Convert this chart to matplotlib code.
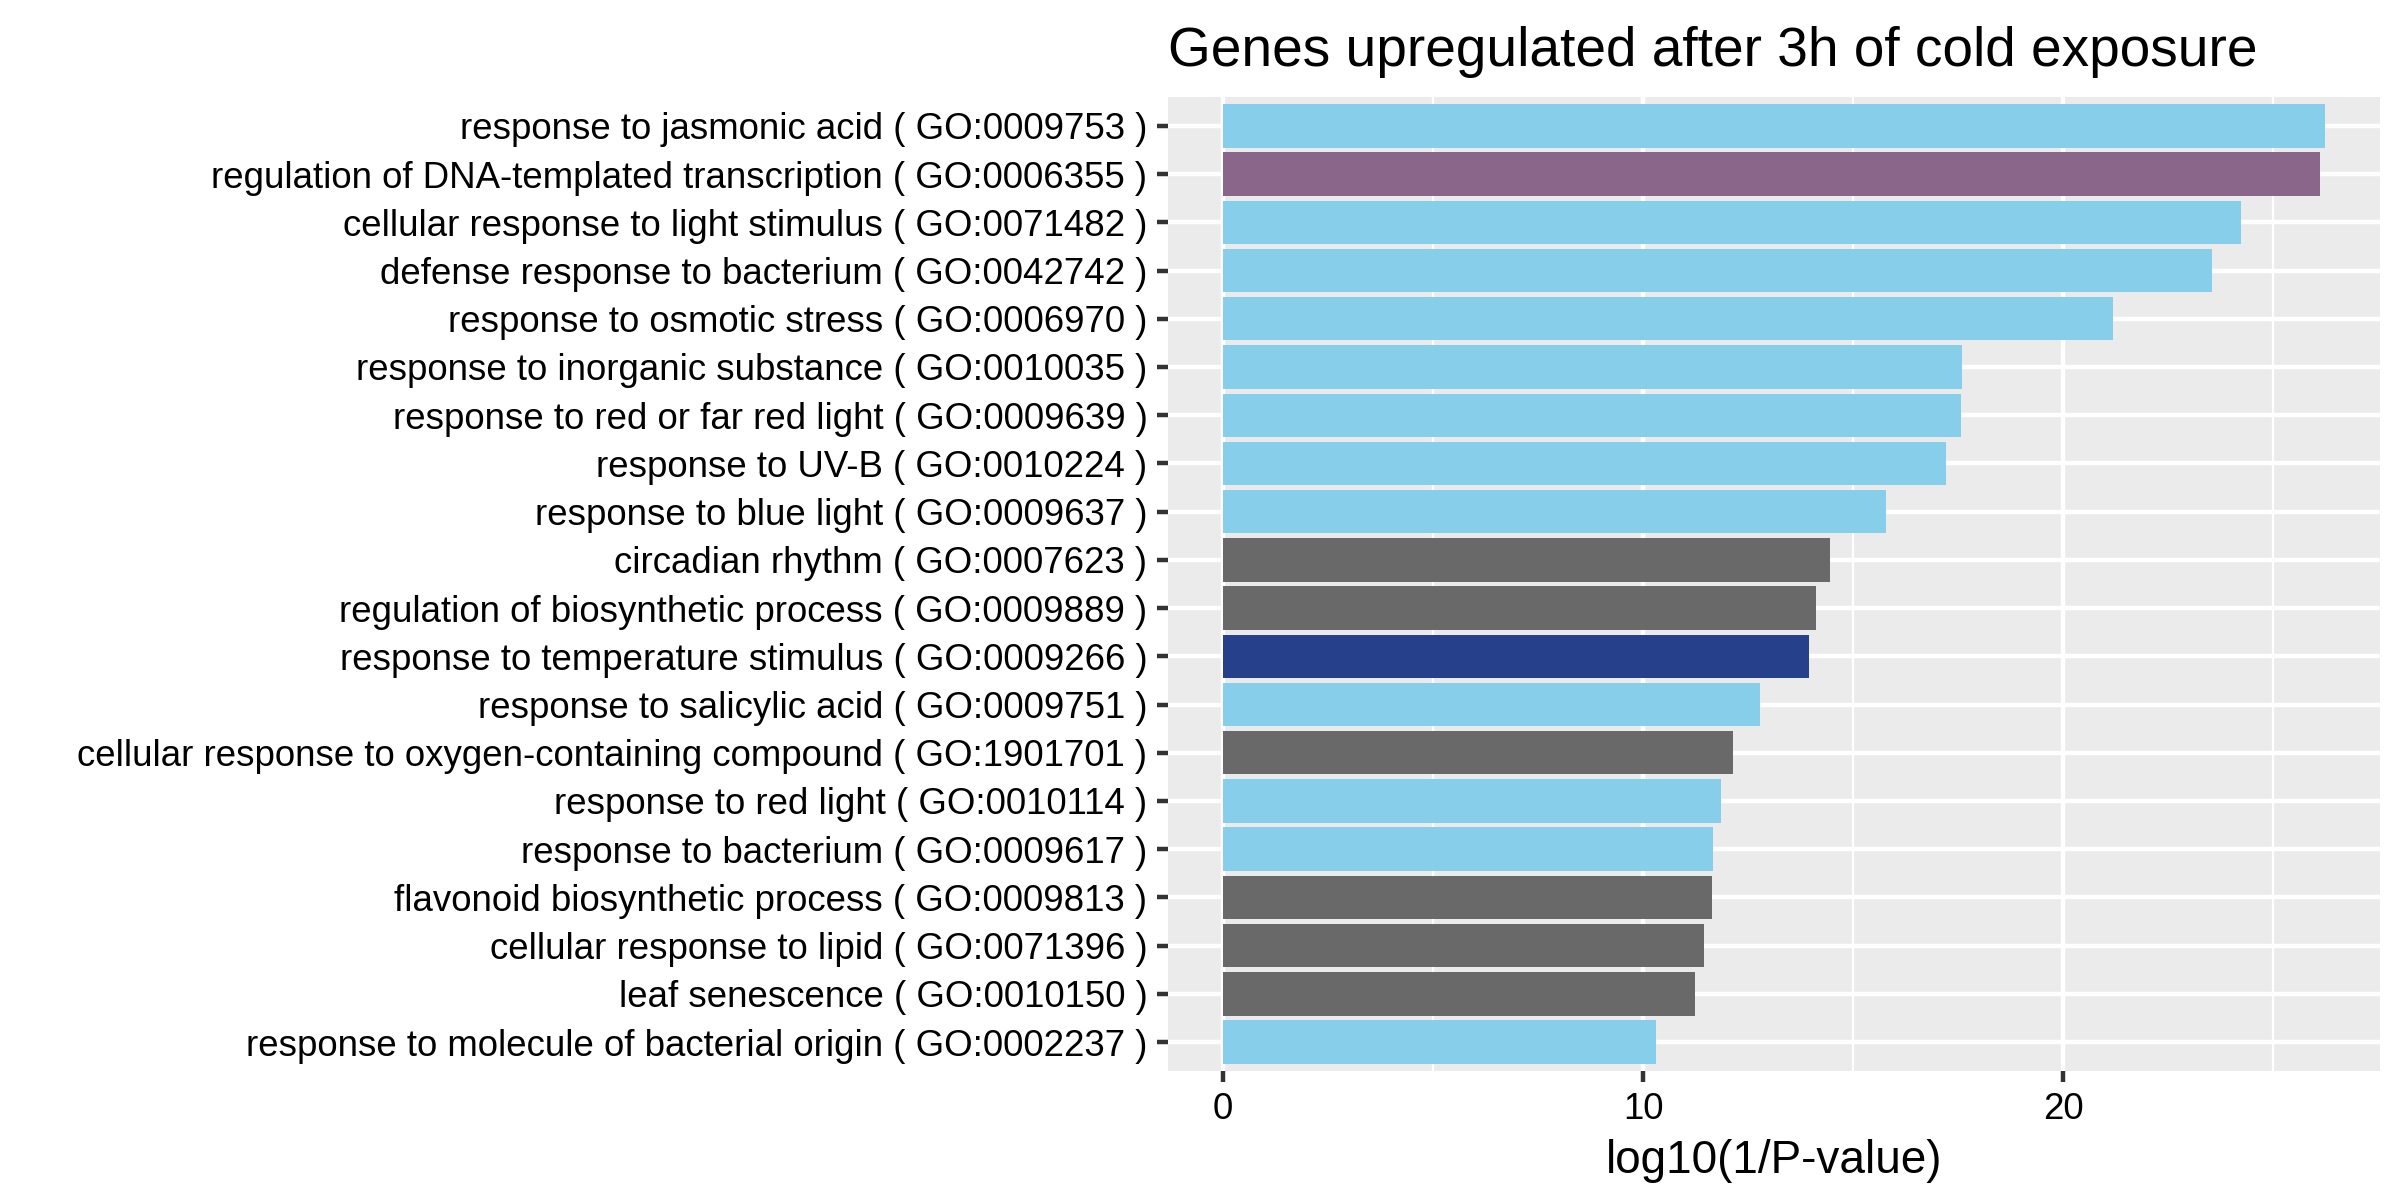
import numpy as np
import matplotlib
matplotlib.use("Agg")
import matplotlib.pyplot as plt

plt.rcParams['font.family'] = ['Liberation Sans', 'DejaVu Sans']

# GO terms, top to bottom as shown
terms = [
    "response to jasmonic acid ( GO:0009753 )",
    "regulation of DNA-templated transcription ( GO:0006355 )",
    "cellular response to light stimulus ( GO:0071482 )",
    "defense response to bacterium ( GO:0042742 )",
    "response to osmotic stress ( GO:0006970 )",
    "response to inorganic substance ( GO:0010035 )",
    "response to red or far red light ( GO:0009639 )",
    "response to UV-B ( GO:0010224 )",
    "response to blue light ( GO:0009637 )",
    "circadian rhythm ( GO:0007623 )",
    "regulation of biosynthetic process ( GO:0009889 )",
    "response to temperature stimulus ( GO:0009266 )",
    "response to salicylic acid ( GO:0009751 )",
    "cellular response to oxygen-containing compound ( GO:1901701 )",
    "response to red light ( GO:0010114 )",
    "response to bacterium ( GO:0009617 )",
    "flavonoid biosynthetic process ( GO:0009813 )",
    "cellular response to lipid ( GO:0071396 )",
    "leaf senescence ( GO:0010150 )",
    "response to molecule of bacterial origin ( GO:0002237 )",
]
log_p = [26.24, 26.12, 24.24, 23.54, 21.18, 17.60, 17.58, 17.22, 15.79, 14.46,
         14.12, 13.95, 12.79, 12.14, 11.86, 11.67, 11.63, 11.46, 11.23, 10.31]
groups = ["stress", "transcription", "stress", "stress", "stress", "stress", "stress",
          "stress", "stress", "other", "other", "temperature", "stress", "other",
          "stress", "stress", "other", "other", "other", "stress"]

group_colors = {
    "stress": "#87CEEB",
    "transcription": "#8B668B",
    "temperature": "#27408B",
    "other": "#696969",
}

fig = plt.figure(figsize=(8, 4), dpi=300)
ax = fig.add_axes([0.4867, 0.1075, 0.9917 - 0.4867, 0.9192 - 0.1075])

n = len(terms)
ypos = np.arange(n)[::-1] + 1
colors = [group_colors[g] for g in groups]
ax.barh(ypos, log_p, height=0.9, color=colors, linewidth=0, zorder=3)

ax.set_facecolor("#EBEBEB")
xmax = max(log_p)
ax.set_xlim(-0.05 * xmax, xmax * 1.05)
ax.set_ylim(0.4, n + 0.6)

ax.set_xticks([0, 10, 20])
ax.set_xticks([5, 15, 25], minor=True)
ax.set_yticks(ypos)
ax.set_yticklabels(terms)

ax.grid(which="major", color="white", linewidth=1.07, zorder=0)
ax.grid(which="minor", axis="x", color="white", linewidth=0.53, zorder=0)
ax.set_axisbelow(True)
for s in ax.spines.values():
    s.set_visible(False)

ax.tick_params(axis="both", which="major", length=2.75, width=1.07,
               color="#333333", labelsize=8.8, labelcolor="black", pad=2.2)
ax.tick_params(axis="both", which="minor", length=0)

ax.set_xlabel("log10(1/P-value)", fontsize=11, color="black", labelpad=3)
fig.text(0.4867, 1 - 66 / 1200, "Genes upregulated after 3h of cold exposure",
         fontsize=13.2, ha="left", va="baseline", color="black")

fig.savefig("out.png", dpi=300)
